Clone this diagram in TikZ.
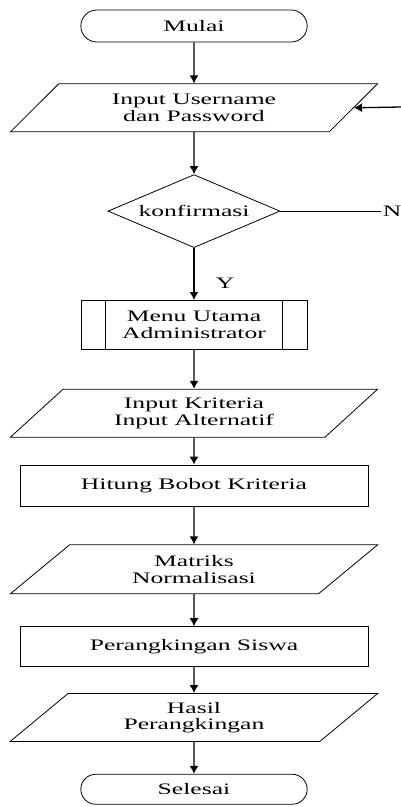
\documentclass[tikz,border=0pt]{standalone}
\usepackage{fontspec}
\newfontfamily\flowfont[FakeStretch=1.6]{Liberation Serif}
\usetikzlibrary{arrows.meta, positioning, shapes.geometric, shapes.misc}

\begin{document}
\begin{tikzpicture}[x=1pt, y=1pt, line width=0.8pt,
        every node/.style = {font=\flowfont\fontsize{16}{16.5}\selectfont},
        term/.style = {draw, rounded rectangle, minimum width=233pt, minimum height=32pt},
        io/.style = {draw, trapezium, trapezium left angle=48, trapezium right angle=132,
            trapezium stretches=true, minimum width=368pt, minimum height=48pt, align=center},
        proc/.style = {draw, rectangle, minimum width=348pt, align=center},
        decision/.style = {draw, diamond, aspect=2.4, inner sep=0pt, minimum width=172pt, minimum height=73pt},
        subproc/.style = {draw, rectangle, minimum width=226pt, minimum height=49pt, align=center},
        flow/.style = {-{Latex[length=8pt, width=9pt]}, line width=1.3pt}]
    \useasboundingbox (0,0) rectangle (401,-807);

    \node[term] (start) at (194,-26) {Mulai};
    \node[io] (login) [below=41pt of start] {Input Username\\dan Password};
    \node[decision] (conf) [below=42pt of login] {konfirmasi};
    \node[subproc] (menu) [below=52pt of conf] {Menu Utama\\Administrator};
    \node[io] (input) [below=39pt of menu] {Input Kriteria\\Input Alternatif};
    \node[proc, minimum height=41pt] (bobot) [below=27pt of input] {Hitung Bobot Kriteria};
    \node[io, minimum height=49pt] (norm) [below=38pt of bobot] {Matriks\\Normalisasi};
    \node[proc, minimum height=40pt] (rank) [below=32pt of norm] {Perangkingan Siswa};
    \node[io] (hasil) [below=26pt of rank] {Hasil\\Perangkingan};
    \node[term, minimum height=30pt] (stop) [below=32pt of hasil] {Selesai};

    % side bars of the sub process
    \draw ([xshift=25pt]menu.north west) -- ([xshift=25pt]menu.south west);
    \draw ([xshift=-25pt]menu.north east) -- ([xshift=-25pt]menu.south east);

    \path[flow] (start) edge (login);
    \path[flow] (login) edge (conf);
    \path[flow] (conf) edge node[pos=0.68, right=18pt] {Y} (menu);
    \path[flow] (menu) edge (input);
    \path[flow] (input) edge (bobot);
    \path[flow] (bobot) edge (norm);
    \path[flow] (norm) edge (rank);
    \path[flow] (rank) edge (hasil);
    \path[flow] (hasil) edge (stop);

    % the loop back, cut off at the right edge
    \node (no) [right=101pt of conf, inner sep=1pt] {N};
    \draw (conf.east) -- (no.west);
    \coordinate (back) at (401,-107);
    \path[flow] (back) edge (login.east);
\end{tikzpicture}
\end{document}
